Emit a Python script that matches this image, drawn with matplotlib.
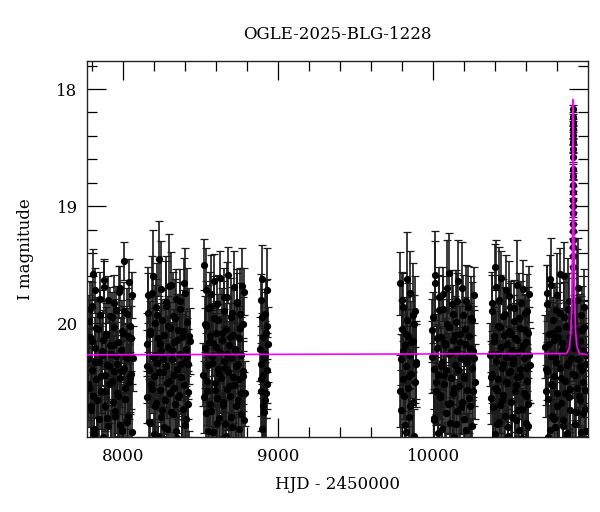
import numpy as np
import matplotlib
matplotlib.use("Agg")
import matplotlib.pyplot as plt
from matplotlib.ticker import MultipleLocator

plt.rcParams['font.family'] = ['DejaVu Serif']

# observing seasons (HJD - 2450000): start, end
season_start = [7776, 8155, 8520, 8885, 9786, 9993, 10368, 10722]
season_end = [8064, 8432, 8787, 8936, 9890, 10268, 10624, 10988]

# I magnitudes per season (baseline)
mag_s1 = [20.31, 19.98, 20.55, 20.12, 20.74, 20.40, 19.85, 20.62, 20.95, 20.21,
          19.72, 20.48, 21.10, 20.05, 20.33, 20.82, 19.93, 20.58, 20.27, 21.02,
          20.14, 19.63, 20.44, 20.71, 20.09, 20.36, 20.88, 19.80, 20.52, 20.19,
          21.18, 20.26, 19.95, 20.67, 20.41, 20.03, 20.79, 19.89, 20.35, 20.60,
          20.16, 21.05, 19.70, 20.47, 20.23, 20.92, 20.08, 19.47, 20.38, 20.65,
          20.29, 19.92, 20.84, 20.11, 20.50, 21.22, 20.02, 20.43, 19.76, 20.30]
mag_s2 = [20.18, 20.63, 19.91, 20.40, 20.85, 20.07, 20.52, 19.74, 20.29, 21.08,
          20.45, 20.00, 20.71, 19.86, 20.34, 20.96, 20.13, 19.45, 20.57, 20.24,
          20.80, 19.97, 20.42, 21.15, 20.10, 20.66, 19.82, 20.37, 20.90, 20.20,
          19.68, 20.49, 20.04, 20.76, 20.31, 21.25, 19.94, 20.55, 20.16, 20.69,
          19.79, 20.39, 20.98, 20.06, 20.61, 20.26, 19.88, 20.46, 21.03, 20.12,
          20.73, 19.66, 20.33, 20.87, 20.22, 19.99, 20.59, 20.35, 21.12, 20.15]
mag_s3 = [20.44, 19.50, 20.21, 20.77, 20.02, 20.58, 19.87, 20.36, 21.06, 20.11,
          20.69, 19.75, 20.28, 20.93, 20.17, 19.96, 20.51, 21.20, 20.08, 20.64,
          19.84, 20.39, 20.81, 20.25, 19.61, 20.47, 20.99, 20.14, 20.70, 19.90,
          20.32, 20.86, 20.05, 20.56, 19.78, 20.42, 21.14, 20.19, 20.62, 19.95,
          20.30, 20.89, 20.10, 19.69, 20.53, 20.23, 21.01, 20.37, 19.83, 20.66,
          20.13, 20.48, 19.92, 20.78, 20.27, 21.09, 20.01, 20.45, 19.73, 20.60]
mag_s4 = [20.22, 19.80, 20.58, 20.35, 20.90, 19.62, 20.44, 20.12, 20.76, 20.30,
          19.92, 20.66, 20.08, 21.05, 20.40, 19.72, 20.52, 20.18]
mag_s5 = [19.66, 20.31, 20.74, 20.05, 20.48, 19.86, 20.62, 20.19, 20.93, 20.37,
          19.97, 20.55, 20.11, 20.80, 20.27, 19.74, 20.43, 21.02, 20.15, 20.67,
          20.01, 20.50, 19.90, 20.35]
mag_s6 = [20.06, 19.95, 20.39, 20.81, 19.59, 20.58, 20.21, 21.07, 20.44, 19.78,
          20.63, 20.12, 20.90, 20.33, 19.88, 20.52, 20.17, 21.16, 20.40, 19.70,
          20.69, 20.26, 20.03, 20.85, 20.47, 19.84, 20.60, 20.14, 20.97, 20.36,
          19.99, 20.75, 20.22, 19.64, 20.54, 20.09, 21.11, 20.30, 20.67, 19.93,
          20.45, 20.82, 20.18, 19.81, 20.57, 20.28, 21.00, 20.11, 20.71, 19.96,
          20.38, 20.88, 20.24, 19.76, 20.50]
mag_s7 = [20.27, 20.64, 19.90, 20.43, 21.04, 20.15, 19.52, 20.55, 20.32, 20.86,
          20.02, 20.48, 19.80, 20.70, 20.20, 21.13, 20.38, 19.94, 20.61, 20.10,
          20.79, 20.29, 19.72, 20.51, 20.96, 20.07, 20.42, 19.86, 20.67, 20.23,
          21.08, 20.34, 19.98, 20.58, 20.13, 20.83, 19.67, 20.46, 20.25, 20.91,
          20.04, 20.39, 19.83, 20.73, 20.19, 21.01, 20.30, 19.91, 20.62, 20.16,
          20.49, 20.88, 20.08, 19.75, 20.36]
mag_s8 = [20.20, 20.58, 19.84, 20.41, 20.97, 20.09, 19.62, 20.52, 20.28, 20.79,
          19.97, 20.45, 20.14, 20.89, 20.33, 19.76, 20.60, 20.05, 21.06, 20.38,
          19.91, 20.68, 20.17, 20.83, 20.25, 19.60, 20.49, 20.02, 20.94, 20.36,
          19.88, 20.63, 20.12, 20.74, 20.30, 21.10, 19.95, 20.43, 20.21, 20.86,
          20.07, 19.80, 20.55, 20.31, 20.99, 20.15, 20.66, 19.93, 20.40, 20.77,
          20.24, 20.03, 20.57, 20.35, 20.92]
seasons = [mag_s1, mag_s2, mag_s3, mag_s4, mag_s5, mag_s6, mag_s7, mag_s8]

# second pass of observations in the same seasons
more_s1 = [20.52, 19.88, 20.71, 20.15, 19.58, 20.90, 20.33, 20.04, 20.66, 21.08,
           19.79, 20.45, 20.24, 20.97, 19.69, 20.58, 20.10, 20.81, 20.37, 19.94,
           21.15, 20.49, 20.19, 19.83, 20.75, 20.28, 20.62, 19.73, 20.87, 20.41,
           20.07, 21.02, 19.90, 20.55, 20.30, 20.79, 19.65, 20.46, 20.13, 20.93]
more_s2 = [20.37, 19.76, 20.84, 20.09, 20.56, 19.60, 20.95, 20.27, 20.68, 19.93,
           21.11, 20.42, 20.18, 19.71, 20.74, 20.31, 20.89, 19.85, 20.51, 20.02,
           21.04, 20.60, 19.67, 20.23, 20.78, 20.44, 19.96, 20.92, 20.14, 20.63,
           19.81, 20.35, 21.00, 20.07, 20.53, 19.74, 20.82, 20.28, 20.69, 20.11]
more_s3 = [20.63, 20.01, 19.72, 20.49, 20.92, 20.16, 19.86, 20.75, 20.34, 21.03,
           19.64, 20.57, 20.20, 20.85, 19.97, 20.43, 21.12, 20.08, 20.67, 19.78,
           20.38, 20.96, 20.26, 19.59, 20.54, 20.12, 20.80, 19.91, 20.46, 21.07,
           20.22, 20.71, 19.82, 20.35, 20.90, 20.04, 20.60, 19.68, 20.41, 20.83]
more_s4 = [20.48, 19.95, 20.71, 20.26, 20.60, 20.02]
more_s5 = [20.58, 19.80, 20.24, 20.87, 20.09, 19.62, 20.45, 20.71, 20.16, 19.93,
           20.96, 20.33]
more_s6 = [20.29, 20.83, 19.66, 20.50, 20.13, 20.94, 19.89, 20.61, 20.37, 21.05,
           19.75, 20.44, 20.19, 20.77, 20.01, 19.57, 20.68, 20.25, 20.99, 19.92,
           20.55, 20.10, 20.86, 19.81, 20.40, 21.13, 20.16, 20.72, 19.70, 20.47,
           20.05, 20.91, 20.33, 19.86, 20.64, 20.21, 21.01, 19.97, 20.58, 20.30]
more_s7 = [20.46, 19.83, 20.72, 20.11, 20.95, 19.69, 20.57, 20.26, 20.84, 20.03,
           19.61, 20.66, 20.35, 21.06, 19.92, 20.50, 20.18, 20.89, 19.77, 20.41,
           20.09, 20.80, 20.31, 19.87, 21.12, 20.53, 20.14, 20.74, 19.96, 20.45,
           20.23, 20.98, 19.71, 20.60, 20.06, 20.85, 20.38, 19.90, 20.69, 20.27]
more_s8 = [20.39, 19.74, 20.65, 20.18, 20.91, 19.67, 20.53, 20.08, 20.82, 20.29,
           19.89, 20.71, 20.12, 21.04, 19.58, 20.47, 20.23, 20.88, 19.95, 20.60,
           20.02, 20.96, 20.34, 19.81, 20.56, 20.15, 21.09, 19.98, 20.44, 20.76,
           20.21, 19.70, 20.62, 20.37, 20.93, 20.06, 20.50, 19.86, 20.73, 20.27]
seasons_more = [more_s1, more_s2, more_s3, more_s4, more_s5, more_s6, more_s7, more_s8]

# photometric errors
err = [0.27, 0.22, 0.34, 0.25, 0.38, 0.29, 0.20, 0.31, 0.42, 0.26,
       0.19, 0.33, 0.45, 0.24, 0.28, 0.36, 0.21, 0.32, 0.27, 0.41,
       0.25, 0.18, 0.30, 0.37, 0.23, 0.29, 0.39, 0.20, 0.33, 0.26,
       0.44, 0.27, 0.22, 0.35, 0.30, 0.24, 0.38, 0.21, 0.28, 0.34,
       0.25, 0.43, 0.19, 0.31, 0.27, 0.40, 0.23, 0.16, 0.29, 0.36,
       0.28, 0.22, 0.39, 0.24, 0.32, 0.46, 0.23, 0.30, 0.20, 0.28]
err_more = [0.31, 0.24, 0.36, 0.28, 0.21, 0.40, 0.30, 0.26, 0.35, 0.44,
            0.23, 0.32, 0.29, 0.41, 0.22, 0.34, 0.27, 0.38, 0.30, 0.25,
            0.45, 0.33, 0.28, 0.24, 0.37, 0.29, 0.34, 0.22, 0.39, 0.31,
            0.27, 0.43, 0.25, 0.35, 0.30, 0.38, 0.20, 0.32, 0.28, 0.41]

# points during the event
peak_t = [10903.0, 10902.9, 10903.1, 10902.8, 10903.2, 10902.7, 10903.3,
          10902.6, 10903.4, 10902.5, 10903.5, 10902.4, 10903.6, 10902.3,
          10903.8, 10902.1, 10904.0, 10901.9, 10904.2, 10901.7, 10904.5]
peak_mag = [18.17, 18.24, 18.29, 18.34, 18.39, 18.45, 18.51, 18.58, 18.68,
            18.74, 18.82, 18.88, 18.95, 19.00, 19.06, 19.15, 19.21, 19.29,
            19.35, 19.43, 19.52]
peak_err = [0.03, 0.03, 0.03, 0.03, 0.04, 0.03, 0.04, 0.04, 0.04, 0.04, 0.05,
            0.05, 0.05, 0.05, 0.06, 0.06, 0.06, 0.07, 0.07, 0.08, 0.09]

# model light curve
model_t = [7772, 10860, 10878, 10888, 10893, 10897, 10899, 10901, 10902,
           10903, 10904, 10905, 10907, 10909, 10913, 10918, 10928, 10946, 10998]
model_mag = [20.27, 20.26, 20.21, 20.07, 19.84, 19.45, 19.10, 18.56, 18.23,
             18.09, 18.23, 18.56, 19.10, 19.45, 19.84, 20.07, 20.21, 20.26, 20.27]

fig = plt.figure(figsize=(6, 5.12), dpi=100)
ax = fig.add_axes([0.1455, 0.147, 0.8345, 0.734])

eb_style = dict(fmt='o', color='black', ecolor='#1a1a1a', elinewidth=1.2,
                capsize=2.6, capthick=0.9, markersize=4.2, zorder=2)
for i, mags in enumerate(seasons):
    t = np.linspace(season_start[i], season_end[i], len(mags))
    ax.errorbar(t, mags, yerr=err[:len(mags)], **eb_style)
for i, mags in enumerate(seasons_more):
    t = np.linspace(season_start[i] + 3, season_end[i] - 3, len(mags))
    ax.errorbar(t, mags, yerr=err_more[:len(mags)], **eb_style)

ax.errorbar(peak_t, peak_mag, yerr=peak_err, **eb_style)

ax.plot(model_t, model_mag, color='#ff00ff', lw=1.2, zorder=3)

ax.set_xlim(7772, 10998)
ax.set_ylim(20.97, 17.76)

ax.xaxis.set_major_locator(MultipleLocator(1000))
ax.xaxis.set_minor_locator(MultipleLocator(200))
ax.yaxis.set_major_locator(MultipleLocator(1))
ax.yaxis.set_minor_locator(MultipleLocator(0.2))
ax.tick_params(which='both', direction='in', top=True, right=True,
               labelsize=12, width=0.9)
ax.tick_params(which='major', length=13.5)
ax.tick_params(which='minor', length=7)
ax.tick_params(axis='x', pad=8)
ax.tick_params(axis='y', pad=7)
for s in ax.spines.values():
    s.set_linewidth(1.0)
    s.set_color('#222222')

ax.set_title('OGLE-2025-BLG-1228', fontsize=12, pad=16)
ax.set_xlabel('HJD - 2450000', fontsize=12, labelpad=8)
ax.set_ylabel('I magnitude', fontsize=12, labelpad=16)

fig.savefig('out.png', dpi=100)
